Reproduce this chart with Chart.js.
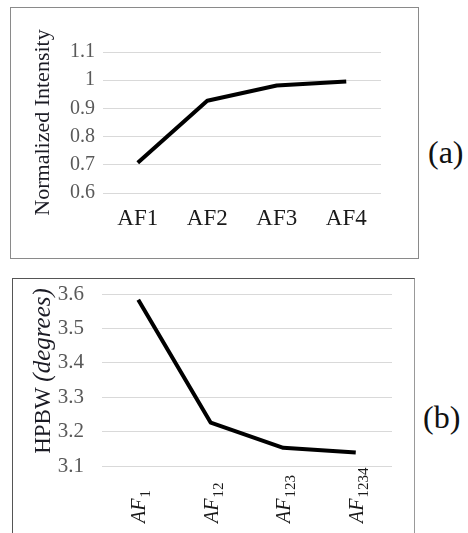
<!DOCTYPE html>
<html>
<head>
<meta charset="utf-8">
<script src="https://cdn.jsdelivr.net/npm/chart.js@4.4.1/dist/chart.umd.min.js"></script>
<style>
  html, body { margin: 0; padding: 0; background: #fff; width: 468px; height: 533px; overflow: hidden; }
  .frame { position: absolute; box-sizing: border-box; background: #fff; }
  #frameA { left: 10px; top: 7px; width: 409px; height: 252px; border: 1px solid #8a8a8a; }
  #frameB { left: 12px; top: 278px; width: 403px; height: 270px; border: 1px solid #555; border-right-color: #999; }
  canvas { position: absolute; left: 0; top: 0; }
  .tag { position: absolute; font-family: "Liberation Serif", "DejaVu Serif", serif; font-size: 32px; color: #111; line-height: 1; }
  #tagA { left: 428px; top: 136px; }
  #tagB { left: 423px; top: 401px; }
</style>
</head>
<body>
<div class="frame" id="frameA"><canvas id="chartA" width="407" height="250"></canvas></div>
<div class="frame" id="frameB"><canvas id="chartB" width="401" height="254"></canvas></div>
<div class="tag" id="tagA">(a)</div>
<div class="tag" id="tagB">(b)</div>
<script>
// Panel (a): normalized intensity per array factor
const intensityCats = ['AF1', 'AF2', 'AF3', 'AF4'];
const intensityVals = [0.707, 0.927, 0.981, 0.995];
const intensityTicks = [0.6, 0.7, 0.8, 0.9, 1, 1.1];

// Panel (b): half-power beamwidth per combined array factor ("base_subscript")
const hpbwCats = ['AF_1', 'AF_12', 'AF_123', 'AF_1234'];
const hpbwVals = [3.583, 3.226, 3.153, 3.139];
const hpbwTicks = [3.1, 3.2, 3.3, 3.4, 3.5, 3.6];

const SERIF = '"Liberation Serif", "DejaVu Serif", serif';
const GRID = '#d9d9d9';
const TICK = '#595959';

function lineDataset(values) {
  return {
    data: values,
    borderColor: '#000',
    borderWidth: 4,
    pointRadius: 0,
    tension: 0,
    borderJoinStyle: 'round',
    fill: false
  };
}

function fixedTicks(list) {
  return function (scale) {
    scale.ticks = list.map(v => ({ value: v }));
  };
}

new Chart(document.getElementById('chartA'), {
  type: 'line',
  data: { labels: intensityCats, datasets: [lineDataset(intensityVals)] },
  options: {
    responsive: false,
    animation: false,
    layout: { padding: { top: 44, right: 37, left: 0, bottom: 0 } },
    plugins: { legend: { display: false }, tooltip: { enabled: false } },
    scales: {
      x: {
        offset: true,
        grid: { display: false, drawTicks: false },
        border: { display: false },
        ticks: { color: '#1a1a1a', padding: 12, maxRotation: 0, font: { family: SERIF, size: 23 } },
        afterFit(s) { s.height = 65; }
      },
      y: {
        min: intensityTicks[0],
        max: intensityTicks[intensityTicks.length - 1],
        afterBuildTicks: fixedTicks(intensityTicks),
        grid: { color: GRID, lineWidth: 1, drawTicks: false },
        border: { display: false },
        ticks: {
          color: TICK, padding: 8,
          font: { family: SERIF, size: 20 },
          callback: v => String(Math.round(v * 10) / 10)
        },
        title: {
          display: true,
          text: 'Normalized Intensity',
          color: '#1b1b24',
          padding: { top: 19, bottom: 0 },
          font: { family: SERIF, size: 22 }
        },
        afterFit(s) { s.width = 92; s.paddingTop = 0; s.paddingBottom = 0; }
      }
    }
  }
});

// Rotated category labels with subscripts, and the mixed-style axis title
const hpbwText = {
  id: 'hpbwText',
  afterDraw(chart) {
    const { ctx, scales: { x }, chartArea } = chart;
    ctx.save();
    ctx.fillStyle = '#1a1a1a';
    ctx.textBaseline = 'alphabetic';
    ctx.textAlign = 'left';
    hpbwCats.forEach((label, i) => {
      const [base, sub] = label.split('_');
      const px = x.getPixelForValue(i);
      ctx.save();
      ctx.translate(px + 7, chartArea.bottom + 57);
      ctx.rotate(-Math.PI / 2);
      ctx.font = 'italic 20px ' + SERIF;
      ctx.fillText(base, 0, 0);
      const w = ctx.measureText(base).width;
      ctx.font = '15px ' + SERIF;
      ctx.fillText(sub, w + 1, 5);
      ctx.restore();
    });

    // axis title: "HPBW" upright, "(degrees)" italic
    const part1 = 'HPBW ';
    const part2 = '(degrees)';
    ctx.font = '23px ' + SERIF;
    const w1 = ctx.measureText(part1).width;
    ctx.font = 'italic 25px ' + SERIF;
    const w2 = ctx.measureText(part2).width;
    const cy = (chartArea.top + chartArea.bottom) / 2 - 9;
    ctx.save();
    ctx.translate(37, cy + (w1 + w2) / 2);
    ctx.rotate(-Math.PI / 2);
    ctx.fillStyle = '#1b1b24';
    ctx.font = '23px ' + SERIF;
    ctx.fillText(part1, 0, 0);
    ctx.font = 'italic 25px ' + SERIF;
    ctx.fillText(part2, w1, 0);
    ctx.restore();
    ctx.restore();
  }
};

new Chart(document.getElementById('chartB'), {
  type: 'line',
  data: { labels: hpbwCats, datasets: [lineDataset(hpbwVals)] },
  options: {
    responsive: false,
    animation: false,
    layout: { padding: { top: 15, right: 22, left: 0, bottom: 0 } },
    plugins: { legend: { display: false }, tooltip: { enabled: false } },
    scales: {
      x: {
        offset: true,
        grid: { display: false, drawTicks: false },
        border: { display: false },
        ticks: { display: false },
        afterFit(s) { s.height = 67; }
      },
      y: {
        min: hpbwTicks[0],
        max: hpbwTicks[hpbwTicks.length - 1],
        afterBuildTicks: fixedTicks(hpbwTicks),
        grid: { color: GRID, lineWidth: 1, drawTicks: false },
        border: { display: false },
        ticks: {
          color: TICK, padding: 18,
          font: { family: SERIF, size: 21 },
          callback: v => (Math.round(v * 10) / 10).toFixed(1)
        },
        afterFit(s) { s.width = 89; s.paddingTop = 0; s.paddingBottom = 0; }
      }
    }
  },
  plugins: [hpbwText]
});
</script>
</body>
</html>
